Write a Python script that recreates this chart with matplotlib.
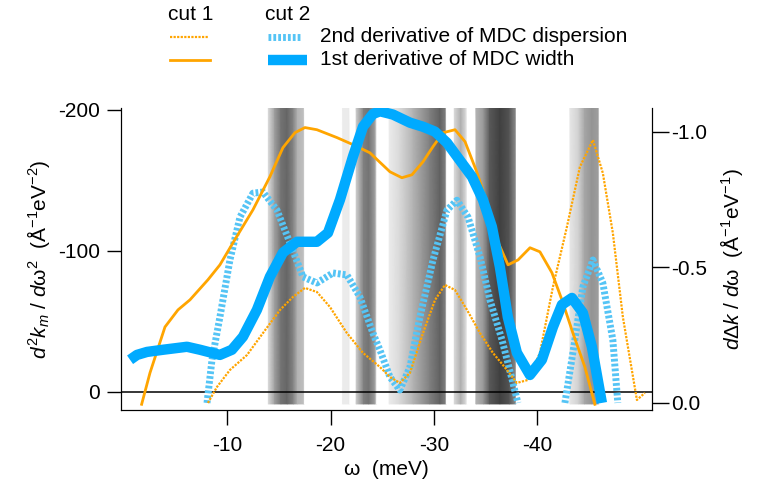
import numpy as np
import matplotlib
matplotlib.use("Agg")
from matplotlib import pyplot as plt
from matplotlib.lines import Line2D

plt.rcParams['font.family'] = ['Liberation Sans', 'DejaVu Sans']
plt.rcParams['mathtext.fontset'] = 'custom'
plt.rcParams['mathtext.rm'] = 'Liberation Sans'
plt.rcParams['mathtext.it'] = 'Liberation Sans:italic'
plt.rcParams['axes.unicode_minus'] = False

# gray background intensity samples along omega (meV, 0=black 1=white)
bg_x = [0.3, -13.9, -14.0, -14.6, -15.2, -15.8, -16.4, -16.8, -17.4, -17.5,
        -21.1, -21.2, -21.8, -21.9, -22.4, -22.5, -23.2, -23.7, -24.3, -24.5,
        -25.6, -25.7, -26.7, -28.0, -29.6, -30.6, -31.1, -31.25, -31.9, -32.0,
        -32.6, -33.1, -33.25, -34.0, -34.1, -34.8, -35.4, -36.4, -37.3, -37.9,
        -38.0, -43.1, -43.2, -44.0, -44.6, -45.3, -45.9, -46.05, -51.1]
bg_level = [1.0, 1.0, 0.85, 0.62, 0.45, 0.4, 0.52, 0.7, 0.75, 1.0,
            1.0, 0.92, 0.92, 1.0, 1.0, 0.8, 0.5, 0.45, 0.62, 1.0,
            1.0, 0.92, 0.85, 0.7, 0.5, 0.38, 0.5, 1.0, 1.0, 0.85,
            0.68, 0.85, 1.0, 1.0, 0.7, 0.6, 0.35, 0.25, 0.33, 0.55,
            1.0, 1.0, 0.9, 0.82, 0.65, 0.58, 0.62, 1.0, 1.0]

# cut 1, 2nd derivative of MDC dispersion (left axis)
c1_d2_w = [-8.13, -9.0, -10.26, -11.91, -13.46, -15.11, -16.36, -17.52, -18.68, -19.94,
           -21.58, -23.14, -24.78, -25.75, -26.71, -27.69, -28.95, -30.11, -31.08, -32.05,
           -33.21, -34.47, -35.72, -37.08, -38.04, -39.11, -40.27, -41.53, -42.88, -44.14,
           -45.40, -46.36, -47.33, -48.30, -49.66, -50.43]
c1_d2 = [7.8, -3.5, -15.6, -26.2, -41.8, -58.2, -67.4, -73.8, -70.9, -60.3,
         -41.8, -27.7, -17.7, -10.6, -6.4, -13.5, -41.8, -65.2, -75.9, -72.3,
         -58.2, -41.8, -27.7, -15.6, -6.4, -8.5, -27.7, -74.5, -117, -159.6,
         -178.7, -155.3, -112.8, -53.2, 5.7, 0.7]

# cut 2, 2nd derivative of MDC dispersion (left axis), two pieces
c2_d2_w_a = [-8.04, -8.52, -9.29, -10.26, -11.23, -12.49, -13.46, -14.81, -16.07, -17.33,
             -18.68, -20.23, -21.58, -22.84, -24.10, -24.78, -25.75, -26.71, -27.69, -28.65,
             -29.92, -31.27, -32.24, -33.31, -34.47, -35.43, -36.60, -37.66, -38.14]
c2_d2_a = [7.8, -22.7, -53.2, -93.6, -124, -141, -141.8, -129, -105.7, -81.6,
           -77.3, -84.4, -83, -67.4, -41.8, -29.8, -10.6, -1.4, -17.7, -53.2,
           -93.6, -129, -136, -124, -95.7, -65.2, -36.9, -6.4, 7.8]
c2_d2_w_b = [-42.69, -43.46, -44.43, -45.40, -46.36, -47.33, -47.81]
c2_d2_b = [7.8, -27.7, -74.5, -93.6, -77.3, -36.9, 7.8]

# cut 1, 1st derivative of MDC width (right axis)
c1_d1_w = [-1.71, -2.52, -3.97, -5.23, -6.39, -8.13, -9.29, -10.55, -12.49, -14.13,
           -15.39, -16.55, -17.52, -18.68, -20.62, -22.17, -23.81, -25.75, -26.91, -27.88,
           -28.95, -29.92, -30.89, -32.05, -33.02, -34.18, -35.15, -36.12, -37.18, -38.15,
           -39.31, -40.27, -41.43, -42.40, -43.46, -44.62, -45.59]
c1_d1 = [0.005, -0.111, -0.280, -0.343, -0.380, -0.454, -0.509, -0.590, -0.712, -0.834,
         -0.941, -0.996, -1.015, -1.007, -0.978, -0.952, -0.922, -0.852, -0.830, -0.841,
         -0.889, -0.945, -0.996, -1.007, -0.963, -0.849, -0.738, -0.601, -0.509, -0.527,
         -0.572, -0.557, -0.480, -0.380, -0.258, -0.133, 0.005]

# cut 2, 1st derivative of MDC width (right axis)
c2_d1_w = [-0.59, -1.26, -2.23, -3.78, -6.10, -7.36, -9.29, -10.45, -11.52, -12.87,
           -14.13, -15.39, -16.75, -18.68, -19.75, -20.91, -22.17, -23.14, -24.10, -24.78,
           -26.04, -27.69, -28.95, -30.11, -31.27, -32.33, -33.69, -34.75, -35.62, -36.39,
           -37.16, -38.04, -39.30, -40.46, -41.53, -42.40, -43.37, -44.43, -45.30, -46.27]
c2_d1 = [-0.159, -0.177, -0.188, -0.196, -0.207, -0.196, -0.177, -0.196, -0.244, -0.343,
         -0.465, -0.554, -0.594, -0.594, -0.627, -0.749, -0.908, -1.018, -1.065, -1.075,
         -1.063, -1.033, -1.018, -1.0, -0.959, -0.904, -0.834, -0.749, -0.649, -0.502,
         -0.317, -0.185, -0.103, -0.159, -0.280, -0.362, -0.387, -0.332, -0.207, 0.0]

orange = '#FFA500'
blue = '#00AAFF'
blue_dot = '#55C4F5'
fs = 15

fig = plt.figure(figsize=(7.65, 4.91), dpi=100)
ax = fig.add_axes([0.158, 0.165, 0.694, 0.615])
ax2 = ax.twinx()

ax.set_xlim(0.3, -51.1)
ax.set_ylim(12.8, -201.4)
ax2.set_ylim(0.026, -1.087)

# background intensity map
bx = np.array([bg_x, bg_x])
by = np.array([[8.5] * len(bg_x), [-201.4] * len(bg_x)])
bc = np.array([bg_level, bg_level])
ax.pcolormesh(bx, by, bc, cmap='gray', vmin=0, vmax=1, shading='gouraud', zorder=0)

ax.axhline(0, color='black', lw=1.1, zorder=1)

ax.plot(c1_d2_w, c1_d2, color=orange, lw=1.6, ls=(0, (1, 0.6)), zorder=3)
ax.plot(c2_d2_w_a, c2_d2_a, color=blue_dot, lw=5, ls=(0, (0.4, 0.3)), zorder=2)
ax.plot(c2_d2_w_b, c2_d2_b, color=blue_dot, lw=5, ls=(0, (0.4, 0.3)), zorder=2)

ax2.plot(c1_d1_w, c1_d1, color=orange, lw=2.0, zorder=3)
ax2.plot(c2_d1_w, c2_d1, color=blue, lw=7.5, zorder=4, solid_capstyle='butt')

for a in (ax, ax2):
    a.spines['top'].set_visible(False)
    a.patch.set_visible(False)
ax.set_zorder(1)
ax2.set_zorder(2)

ax.set_xticks([-10, -20, -30, -40])
ax.set_xticklabels(['-10', '-20', '-30', '-40'])
ax.set_yticks([0, -100, -200])
ax.set_yticklabels(['0', '-100', '-200'])
ax2.set_yticks([0.0, -0.5, -1.0])
ax2.set_yticklabels(['0.0', '-0.5', '-1.0'])

ax.tick_params(axis='x', direction='out', length=11, width=1, pad=8, labelsize=fs)
ax.tick_params(axis='y', direction='out', length=10, width=1, pad=5, labelsize=fs)
ax2.tick_params(axis='y', direction='out', length=12, width=1, pad=2, labelsize=fs)

ax.set_xlabel('ω  (meV)', fontsize=fs, labelpad=3)
ax.set_ylabel(r'$d^2k_m$ / $d$ω$^2$  (Å$^{-1}$eV$^{-2}$)', fontsize=fs, labelpad=4)
ax2.set_ylabel(r'$d\Delta k$ / $d$ω  (Å$^{-1}$eV$^{-1}$)', fontsize=fs, labelpad=8)

# legend
fig.text(168 / 765, 1 - 14 / 491, 'cut 1', fontsize=fs, va='center')
fig.text(265 / 765, 1 - 14 / 491, 'cut 2', fontsize=fs, va='center')
fig.add_artist(Line2D([170 / 765, 208 / 765], [1 - 37 / 491] * 2, color=orange, lw=1.6,
                      ls=(0, (1, 0.6))))
fig.add_artist(Line2D([170 / 765, 210 / 765], [1 - 60 / 491] * 2, color=orange, lw=2.0))
fig.add_artist(Line2D([268 / 765, 301 / 765], [1 - 37 / 491] * 2, color=blue_dot, lw=5,
                      ls=(0, (0.4, 0.3))))
fig.add_artist(Line2D([268 / 765, 307 / 765], [1 - 60 / 491] * 2, color=blue, lw=7.5,
                      solid_capstyle='butt'))
fig.text(320 / 765, 1 - 37 / 491, '2nd derivative of MDC dispersion', fontsize=fs, va='center')
fig.text(320 / 765, 1 - 60 / 491, '1st derivative of MDC width', fontsize=fs, va='center')

fig.savefig('out.png', dpi=100)
